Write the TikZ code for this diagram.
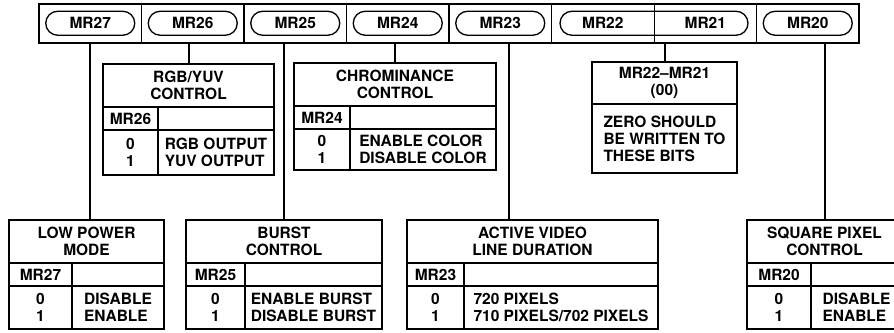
\documentclass[tikz,border=0pt]{standalone}
\usepackage{fontspec}
\setmainfont{TeX Gyre Heros}
\usetikzlibrary{positioning, shapes.misc}

\begin{document}
\begin{tikzpicture}[
    x=1pt, y=-1pt,
    font=\fontsize{15.5}{17}\selectfont\bfseries,
    regcell/.style={
        draw, line width=1.5pt, inner sep=0pt, outer sep=0pt,
        minimum width=102.5pt, minimum height=39.5pt
    },
    pill/.style={
        draw, rounded rectangle, line width=1.3pt, inner sep=0pt,
        minimum width=89pt, minimum height=24pt
    },
    tcell/.style 2 args={
        draw, line width=2pt, inner sep=0pt, outer sep=0pt,
        align=center, minimum width=#1, minimum height=#2
    },
    vals/.style={align=left},
    wire/.style={line width=2pt}
]
\useasboundingbox (0,0) rectangle (894,332);

% Register bits
\node[regcell] (c27) at (90.25,23.25) {MR27};
\node[regcell, right=0pt of c27] (c26) {MR26};
\node[regcell, right=0pt of c26] (c25) {MR25};
\node[regcell, right=0pt of c25] (c24) {MR24};
\node[regcell, right=0pt of c24] (c23) {MR23};
\node[regcell, line width=1pt, right=0pt of c23] (c22) {MR22};
\node[regcell, line width=1pt, right=0pt of c22] (c21) {MR21};
\node[regcell, right=0pt of c21] (c20) {MR20};
\draw[line width=2pt] (c27.north west) rectangle (c20.south east);

\node[pill] (p27) at (c27) {};
\node[pill] (p26) at (c26) {};
\node[pill] (p25) at (c25) {};
\node[pill] (p24) at (c24) {};
\node[pill] (p23) at (c23) {};
\node[pill, minimum width=188pt] (p2221) at (c22.east) {};
\node[pill] (p20) at (c20) {};

% Low power mode
\node[tcell={155}{43}, anchor=north west] (lpH) at (9,220) {LOW POWER\\MODE};
\node[tcell={63}{23}, below right=0pt and 0pt of lpH.south west] (lpM) {MR27};
\node[tcell={92}{23}, right=0pt of lpM] (lpE) {};
\node[tcell={63}{43}, below=0pt of lpM] (lpB) {0\\1};
\node[tcell={92}{43}, vals, right=0pt of lpB] (lpV) {DISABLE\\ENABLE};

% RGB/YUV control
\node[tcell={171}{43}, anchor=north west] (rgbH) at (103,64) {RGB/YUV\\CONTROL};
\node[tcell={55}{23}, below right=0pt and 0pt of rgbH.south west] (rgbM) {MR26};
\node[tcell={116}{23}, right=0pt of rgbM] (rgbE) {};
\node[tcell={55}{45}, below=0pt of rgbM] (rgbB) {0\\1};
\node[tcell={116}{45}, vals, right=0pt of rgbB] (rgbV) {RGB OUTPUT\\YUV OUTPUT};

% Burst control
\node[tcell={196}{43}, anchor=north west] (brH) at (186,220) {BURST\\CONTROL};
\node[tcell={59}{23}, below right=0pt and 0pt of brH.south west] (brM) {MR25};
\node[tcell={137}{23}, right=0pt of brM] (brE) {};
\node[tcell={59}{43}, below=0pt of brM] (brB) {0\\1};
\node[tcell={137}{43}, vals, right=0pt of brB] (brV) {ENABLE BURST\\DISABLE BURST};

% Chrominance control
\node[tcell={202}{43}, anchor=north west] (chH) at (294,63) {CHROMINANCE\\CONTROL};
\node[tcell={56}{23}, below right=0pt and 0pt of chH.south west] (chM) {MR24};
\node[tcell={146}{23}, right=0pt of chM] (chE) {};
\node[tcell={56}{41}, below=0pt of chM] (chB) {0\\1};
\node[tcell={146}{41}, vals, right=0pt of chB] (chV) {ENABLE COLOR\\DISABLE COLOR};

% Active video line duration
\node[tcell={251}{43}, anchor=north west] (avH) at (407,220) {ACTIVE VIDEO\\LINE DURATION};
\node[tcell={57}{23}, below right=0pt and 0pt of avH.south west] (avM) {MR23};
\node[tcell={194}{23}, right=0pt of avM] (avE) {};
\node[tcell={57}{43}, below=0pt of avM] (avB) {0\\1};
\node[tcell={194}{43}, vals, right=0pt of avB] (avV) {720 PIXELS\\710 PIXELS/702 PIXELS};

% MR22-MR21 reserved
\node[tcell={145}{42}, anchor=north west] (zbH) at (592,62) {MR22--MR21\\(00)};
\node[tcell={145}{69}, vals, below=0pt of zbH] (zbV) {ZERO SHOULD\\BE WRITTEN TO\\THESE BITS};

% Square pixel control
\node[tcell={155}{43}, anchor=north west] (sqH) at (747,220) {SQUARE PIXEL\\CONTROL};
\node[tcell={64}{23}, below right=0pt and 0pt of sqH.south west] (sqM) {MR20};
\node[tcell={91}{23}, right=0pt of sqM] (sqE) {};
\node[tcell={64}{43}, below=0pt of sqM] (sqB) {0\\1};
\node[tcell={91}{43}, vals, right=0pt of sqB] (sqV) {DISABLE\\ENABLE};

% Bit lines
\draw[wire] (c27.south) -- (c27.south |- lpH.north);
\draw[wire] (rgbH.north) -- (rgbH.north |- c26.south);
\draw[wire] (brH.north) -- (brH.north |- c25.south);
\draw[wire] (chH.north) -- (chH.north |- c24.south);
\draw[wire] ([xshift=8.75pt]c23.south) -- ([xshift=8.75pt]c23.south |- avH.north);
\draw[wire] (zbH.north) -- (zbH.north |- c21.south);
\draw[wire] (sqH.north) -- (sqH.north |- c20.south);

\end{tikzpicture}
\end{document}
